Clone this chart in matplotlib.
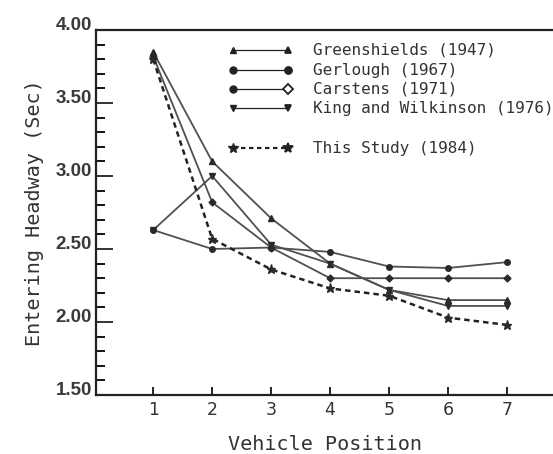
import matplotlib.pyplot as plt
from matplotlib.ticker import MultipleLocator, FormatStrFormatter
from matplotlib.lines import Line2D

# entering headway (sec) by vehicle position in queue
positions = [1, 2, 3, 4, 5, 6, 7]
greenshields = [3.85, 3.10, 2.71, 2.40, 2.22, 2.15, 2.15]
gerlough = [2.63, 2.50, 2.51, 2.48, 2.38, 2.37, 2.41]
carstens = [3.82, 2.82, 2.51, 2.30, 2.30, 2.30, 2.30]
king_wilkinson = [2.63, 3.00, 2.53, 2.40, 2.22, 2.11, 2.11]
this_study = [3.80, 2.57, 2.36, 2.23, 2.18, 2.03, 1.98]

labels = ["Greenshields (1947)", "Gerlough (1967)", "Carstens (1971)",
          "King and Wilkinson (1976)", "This Study (1984)"]

mono = "DejaVu Sans Mono"
line_col = "#505050"
mark_col = "#2a2a2a"

fig = plt.figure(figsize=(5.53, 4.54), dpi=100)
ax = fig.add_axes([96 / 553, 59 / 454, 457 / 553, 365 / 454])

ax.plot(positions, greenshields, color=line_col, lw=1.3, marker="^", ms=4.5, mfc=mark_col, mec=mark_col)
ax.plot(positions, gerlough, color=line_col, lw=1.3, marker="o", ms=4, mfc=mark_col, mec=mark_col)
ax.plot(positions, carstens, color=line_col, lw=1.3, marker="D", ms=3.5, mfc=mark_col, mec=mark_col)
ax.plot(positions, king_wilkinson, color=line_col, lw=1.3, marker="v", ms=4.5, mfc=mark_col, mec=mark_col)
ax.plot(positions, this_study, color="#222222", lw=1.8, ls=(0, (2.2, 1.6)), marker="*", ms=6.5,
        mfc=mark_col, mec=mark_col)

ax.set_xlim(0.03, 7.78)
ax.set_ylim(1.5, 4.0)

ax.set_xticks(positions)
ax.yaxis.set_major_locator(MultipleLocator(0.5))
ax.yaxis.set_minor_locator(MultipleLocator(0.1))
ax.yaxis.set_major_formatter(FormatStrFormatter("%.2f"))

ax.tick_params(axis="y", which="major", direction="in", length=12, width=1.3, pad=3,
               labelsize=13.5, colors="#222222")
ax.tick_params(axis="y", which="minor", direction="in", length=6.5, width=1.3)
ax.tick_params(axis="x", which="major", direction="in", length=6, width=1.2, pad=4,
               labelsize=12.5, labelcolor="#333333")
for lbl in ax.get_yticklabels():
    lbl.set_fontfamily("Liberation Sans")
    lbl.set_fontweight("bold")
    lbl.set_color("#3a3a3a")
    lbl.set_va("baseline")

ax.spines["right"].set_visible(False)
for s in ["left", "bottom", "top"]:
    ax.spines[s].set_linewidth(1.6)
    ax.spines[s].set_color("#222222")

ax.set_xlabel("Vehicle Position", fontfamily=mono, fontsize=14.5, color="#333333", labelpad=12)
ax.set_ylabel("Entering Headway (Sec)", fontfamily=mono, fontsize=14.5, color="#333333", labelpad=8)

# hand-drawn key, markers at both ends of a short line
w = 457
h = 365
x_left = (233 - 96) / w
x_right = (288 - 96) / w
x_text = (313 - 96) / w
rows_px = [50, 70, 89, 108, 148]
keys = [("^", "^", "-"), ("o", "o", "-"), ("o", "D", "-"), ("v", "v", "-"), ("*", "*", "--")]
for (ml, mr, ls), lab, ypx in zip(keys, labels, rows_px):
    yy = (395 - ypx) / h
    ax.add_line(Line2D([x_left, x_right], [yy, yy], transform=ax.transAxes, color="#222222",
                       lw=0.9 if ls == "-" else 1.6, ls="-" if ls == "-" else (0, (2, 1.6)),
                       clip_on=False))
    ax.plot([x_left], [yy], marker=ml, ms=5 if ml != "*" else 7.5, color="#222222",
            transform=ax.transAxes, clip_on=False)
    face = "white" if mr == "D" else "#222222"
    ax.plot([x_right], [yy], marker=mr, ms=5 if mr != "*" else 7.5, color="#222222", mfc=face,
            mew=1.3, transform=ax.transAxes, clip_on=False)
    ax.text(x_text, yy, lab, transform=ax.transAxes, fontfamily=mono, fontsize=11.5,
            color="#333333", va="center", ha="left")

fig.savefig("out.png", dpi=100)
